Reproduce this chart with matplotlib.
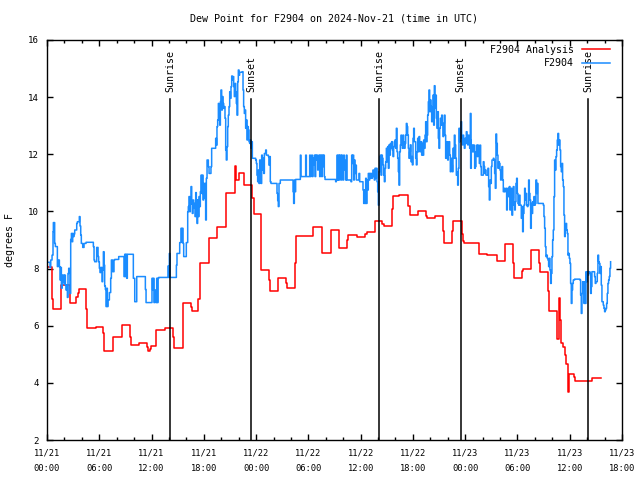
import numpy as np
import matplotlib
matplotlib.use("Agg")
import matplotlib.pyplot as plt

# ---------------- data (hours since 2024-11-21 00:00 UTC, degrees F) ----------------
red_h = [0.0, 0.61, 0.73, 1.65, 2.64, 3.37, 3.52, 3.71, 4.52, 4.63, 5.62, 6.39, 6.54, 7.54, 7.61,
         8.57, 9.53, 9.68, 10.6, 11.5, 11.63, 11.82, 11.98, 12.51, 13.51, 14.5, 14.61, 15.57, 16.49,
         16.6, 17.33, 17.56, 18.6, 19.55, 20.5, 21.58, 21.66, 22.04, 22.57, 23.57, 23.72, 24.53,
         25.52, 25.63, 26.55, 27.47, 27.59, 28.5, 28.62, 30.53, 31.53, 31.6, 32.64, 33.55, 34.47,
         34.59, 35.58, 36.54, 36.69, 37.61, 37.69, 38.49, 38.65, 39.56, 39.66, 40.4, 41.48, 41.63,
         42.55, 42.62, 43.47, 43.65, 44.57, 45.49, 45.61, 46.52, 46.64, 47.6, 47.7, 47.86, 49.55,
         49.6, 50.5, 51.6, 52.53, 53.53, 53.6, 54.56, 54.6, 55.6, 56.5, 56.6, 57.55, 57.6, 58.57,
         58.8, 58.88, 58.96, 59.27, 59.46, 59.61, 59.77, 59.84, 59.96, 60.5, 60.6, 62.52, 62.6, 63.55]
red_v = [8.07, 6.95, 6.58, 7.42, 6.78, 7.0, 7.16, 7.27, 6.6, 5.92, 5.94, 5.73, 5.1, 5.38, 5.6,
         6.01, 5.6, 5.31, 5.38, 5.24, 5.1, 5.19, 5.29, 5.84, 5.92, 5.6, 5.22, 6.78, 6.64,
         6.5, 6.95, 8.18, 9.06, 9.47, 10.63, 11.59, 11.1, 11.33, 10.93, 10.46, 9.9, 7.94,
         7.6, 7.21, 7.66, 7.5, 7.31, 8.2, 9.13, 9.44, 9.0, 8.53, 9.34, 8.71, 9.0,
         9.19, 9.09, 9.2, 9.27, 9.5, 9.65, 9.55, 9.49, 10.1, 10.55, 10.58, 10.2, 9.88,
         9.95, 10.0, 9.85, 9.76, 9.84, 9.3, 8.88, 9.3, 9.65, 9.2, 8.95, 8.88, 8.55,
         8.5, 8.47, 8.25, 8.86, 8.2, 7.66, 7.9, 7.97, 8.64, 8.2, 7.89, 7.2, 6.53, 5.55,
         6.96, 6.2, 5.41, 5.27, 4.97, 4.65, 4.16, 3.69, 4.31, 4.2, 4.05, 4.05, 4.16, 4.16]

blue_h_a = [0.0, 0.35, 0.43, 0.58, 0.69, 0.73, 0.88, 0.96, 1.19, 1.3, 1.42, 1.5, 1.57, 1.65, 1.73,
            1.8, 1.88, 1.96, 2.03, 2.11, 2.18, 2.26, 2.34, 2.41, 2.49, 2.57, 2.64, 2.72, 2.8, 2.87,
            2.95, 3.03, 3.1, 3.18, 3.41, 3.49, 3.71, 3.79, 3.87, 3.94, 4.1, 4.25, 4.48, 5.32, 5.4,
            5.47, 5.7, 5.86, 5.93, 6.01, 6.09, 6.16, 6.32, 6.39, 6.47, 6.55, 6.62, 6.7, 6.78, 6.85,
            6.93, 7.0, 7.16, 7.31, 7.39, 7.54, 7.69, 7.77, 8.23, 8.84, 8.92, 9.0, 9.07, 9.15, 9.22,
            9.91, 10.07, 10.3, 11.29, 11.37, 12.05, 12.13, 12.21, 12.28, 12.36, 12.51, 12.59, 12.67,
            12.74, 12.82, 13.89, 13.97, 14.04, 14.12,
            14.85, 14.92, 15.23, 15.38, 15.46, 15.53, 15.61, 15.69, 15.99, 16.15, 16.22, 16.3, 16.38,
            16.45, 16.53, 16.61, 16.68, 16.76, 16.84, 16.91, 16.99, 17.07, 17.14, 17.22, 17.29, 17.37,
            17.45, 17.52, 17.6, 17.68, 17.75, 17.83, 17.91, 17.98, 18.06, 18.14, 18.21, 18.29, 18.37,
            18.52, 18.6, 18.75, 18.82, 18.9, 19.36, 19.44, 19.51, 19.59, 19.67, 19.74, 19.82, 19.9,
            19.97, 20.05, 20.13, 20.2, 20.28, 20.35, 20.43, 20.51, 20.58, 20.66, 20.74, 20.81, 20.89,
            20.97, 21.04, 21.12, 21.2, 21.27, 21.35, 21.43, 21.5, 21.58, 21.66, 21.73, 21.81, 21.89,
            21.96, 22.04, 22.11, 22.42, 22.5, 22.57, 22.65, 22.73, 22.8, 22.88, 22.96, 23.03, 23.11,
            23.19, 23.26, 23.34, 23.41, 23.49, 23.57, 23.95, 24.03, 24.1, 24.18, 24.26,
            24.33, 24.41, 24.49, 24.56, 24.64, 24.72, 24.79, 24.87, 24.95, 25.1, 25.18, 25.41, 25.48,
            25.56, 25.63, 25.71, 26.4, 26.48, 26.55, 26.63, 26.78, 28.24, 28.31, 28.39, 28.47, 28.54,
            29.08, 29.15, 29.69, 29.77, 30.15, 30.23, 30.3, 30.38, 30.46, 30.53, 30.61, 30.68, 30.76,
            30.84, 30.91, 30.99, 31.07, 31.14, 31.22, 31.3, 31.37, 31.53, 31.6, 31.68, 31.76, 31.83,
            31.91, 33.13, 33.21, 33.29, 33.36, 33.44, 33.52, 33.59, 33.74, 33.82, 33.9, 33.97, 34.05,
            34.13, 34.2, 34.28, 34.36, 34.43, 34.89, 34.97, 35.05, 35.12, 35.2, 35.28, 35.35, 35.43,
            35.51, 35.81, 35.89, 36.27, 36.35, 36.42, 36.5, 36.58, 36.65, 36.73, 36.81, 36.88, 36.96,
            37.04, 37.11, 37.19, 37.26, 37.34, 37.42, 37.49, 37.57]
blue_v_a = [8.22, 8.04, 8.3, 8.47, 9.29, 9.61, 8.88, 8.77, 8.07, 8.3, 8.07, 7.6, 8.04, 7.31, 7.77,
            7.54, 7.77, 7.46, 7.77, 7.42, 7.25, 7.42, 6.99, 7.83, 8.01, 7.89, 7.13, 9.02, 9.23, 8.94,
            9.23, 9.12, 9.21, 9.35, 9.58, 9.64, 9.82, 9.49, 9.17, 8.88, 8.74, 8.88, 8.92, 8.77, 8.3,
            8.24, 8.74, 8.42, 8.24, 8.01, 7.86, 8.04, 7.54, 7.95, 8.59, 8.12, 7.39, 7.27, 6.67, 7.31,
            6.67, 6.9, 7.16, 7.66, 8.3, 7.89, 8.3, 8.32, 8.42, 7.72, 8.5, 7.72, 8.5, 7.66, 8.5,
            7.66, 6.84, 7.72, 7.27, 6.81, 7.66, 7.25, 7.66, 6.81, 7.25, 6.81, 7.66, 6.81,
            7.66, 7.69, 8.09, 7.69, 8.53, 7.69,
            8.12, 8.53, 8.91, 9.41, 8.94, 9.41, 8.88, 8.42, 8.91, 9.99, 10.17, 10.52, 9.99,
            10.26, 10.87, 10.28, 9.93, 10.4, 10.11, 10.28, 9.82, 10.66, 10.4, 9.58, 10.4, 9.82,
            10.52, 10.17, 10.69, 11.27, 10.63, 11.27, 10.4, 10.98, 10.46, 10.98, 9.7, 11.16, 11.8,
            11.57, 11.33, 11.33, 11.57, 12.21, 12.56, 12.32, 12.97, 13.2, 13.78, 13.43, 13.02, 13.84,
            14.25, 13.55, 14.02, 13.78, 13.61, 13.67, 13.26, 12.15, 11.8, 12.27, 12.97, 13.37, 13.67,
            14.19, 13.96, 14.37, 14.74, 14.6, 14.72, 14.37, 14.02, 14.48, 14.19, 13.78, 13.37, 14.54,
            14.95, 14.77, 14.87, 14.89, 14.25, 13.67, 13.43, 13.55, 12.91, 13.2, 12.5, 12.97, 12.85,
            12.44, 12.38, 12.5, 12.21, 12.44, 11.86, 11.8, 11.68, 11.27, 11.04, 11.45,
            10.98, 11.8, 11.45, 10.98, 11.97, 11.45, 11.86, 11.33, 12.03, 12.15, 11.97, 11.92, 11.62,
            11.92, 11.04, 10.98, 10.63, 10.38, 10.17, 10.98, 11.1, 10.69, 10.28, 11.1, 10.69, 11.12,
            11.97, 11.22, 11.97, 11.22, 11.97, 11.22, 11.57, 11.97, 11.22, 11.86, 11.62, 11.97, 11.22,
            11.97, 11.8, 11.97, 11.45, 11.68, 11.97, 11.22, 11.97, 11.22, 11.97, 11.57, 11.97, 11.22,
            11.12, 11.04, 11.1, 11.97, 11.1, 11.97, 11.1, 11.97, 11.1, 11.97, 11.57, 11.1, 11.97,
            11.8, 11.45, 11.1, 11.97, 11.1, 11.04, 11.97, 11.68, 11.97, 11.1, 11.8, 11.33, 11.62,
            11.1, 11.33, 11.04, 10.75, 10.28, 10.75, 10.28, 11.16, 10.28, 11.1, 10.75, 11.33, 11.1,
            11.33, 11.16, 11.33, 11.16, 11.27, 11.45, 11.22, 11.1]

# evenly sampled readings (every ~4.6 min) from 37.65 h and from 48.55 h
blue_b_start, blue_c_start, blue_step = 37.65, 48.55, 0.0765
blue_v_b = [11.51, 11.16, 11.51, 11.04, 10.69, 10.22, 11.39, 11.92, 11.97, 11.27, 11.97, 11.86,
            11.63, 11.27, 11.04, 11.51, 11.74, 12.21, 11.74, 12.27, 11.51, 12.33, 11.97, 12.38,
            12.21, 12.44, 12.15, 11.92, 12.27, 12.44, 12.5, 12.21, 12.91, 12.09, 11.86, 11.39,
            10.92, 12.09, 12.33, 12.67, 12.33, 12.21, 12.67, 12.44, 12.21, 12.38, 12.67, 13.08,
            12.97, 12.67, 12.21, 11.86, 12.09, 12.33, 11.74, 11.92, 11.63, 12.56, 12.91, 12.44,
            12.44, 11.86, 11.63, 12.09, 12.56, 12.09, 12.62, 12.27, 12.09, 12.44, 11.97, 12.38,
            11.97, 12.5, 12.21, 12.67, 13.14, 12.44, 12.67, 13.37, 13.84, 14.25, 13.49, 13.9,
            13.67, 13.14, 13.61, 14.07, 13.02, 14.4, 13.61, 14.07, 13.26, 12.91, 13.49, 12.56,
            12.21, 12.91, 13.26, 13.02, 13.37, 13.08, 12.62, 13.08, 13.37, 12.67, 11.86, 12.09,
            12.44, 11.8, 12.27, 12.44, 11.97, 11.39, 11.86, 11.63, 11.39, 12.21, 11.86, 12.67,
            12.33, 11.86, 11.27, 11.39, 10.92, 11.51, 12.91, 12.44, 12.79, 13.14, 12.56, 12.33,
            12.67, 12.44, 12.21, 12.56, 12.38, 12.79, 12.44, 12.33, 12.67, 12.44, 12.21, 13.43, 12.21]
blue_v_c = [12.5, 11.51, 12.32, 12.09, 12.32, 12.09, 12.32, 11.51, 11.57, 12.09, 12.32, 11.92,
            12.32, 12.03, 11.68, 12.32, 11.57, 11.27, 11.27, 11.27, 11.74, 11.57, 11.33, 11.45,
            11.27, 11.27, 11.27, 11.51, 10.87, 10.4, 11.1, 10.98, 11.57, 11.8, 11.8, 11.86,
            11.8, 11.33, 10.81, 12.71, 12.38, 11.97, 11.51, 11.74, 11.68, 11.45, 11.1, 11.22,
            11.57, 11.1, 10.69, 10.81, 10.69, 10.75, 10.81, 10.05, 10.52, 10.81, 10.52, 10.87,
            10.05, 10.52, 10.81, 9.87, 10.46, 10.87, 10.22, 10.05, 10.34, 10.98, 11.16, 10.63,
            10.28, 10.22, 10.57, 10.22, 10.22, 9.76, 10.17, 9.29, 9.93, 10.22, 10.81, 10.4,
            10.63, 10.22, 10.17, 10.22, 11.1, 10.63, 10.4, 9.41, 10.28, 9.93, 10.34, 10.22,
            10.52, 10.22, 10.28, 11.1, 10.63, 10.98, 10.28, 10.28, 10.28, 10.28, 10.28, 10.28,
            10.28, 10.28, 10.22, 9.82, 9.41, 8.77, 8.42, 8.47, 8.36, 8.3, 8.07, 8.36,
            7.95, 7.48, 7.83, 8.42, 9.0, 9.35, 10.52, 11.8, 11.45, 11.92, 12.15, 12.5,
            12.73, 12.32, 12.5, 12.15, 11.57, 11.39, 11.68, 11.1, 10.87, 9.87, 9.12, 9.35,
            9.58, 9.35, 9.23, 8.47, 8.53, 8.36, 8.18, 7.48, 6.78, 7.25, 7.48, 7.6,
            7.6, 7.63, 7.63, 7.63, 7.63, 7.63, 7.63, 7.63, 7.63, 7.6, 7.07, 6.43,
            7.13, 7.54, 7.31, 6.78, 7.54, 6.78, 7.89, 7.54, 7.89, 7.77, 7.89, 7.89,
            7.83, 7.13, 7.37, 7.89, 7.89, 7.89, 7.89, 7.72, 7.48, 7.54, 7.54, 7.83,
            8.47, 8.24, 8.18, 7.83, 8.07, 7.42, 6.84, 6.84, 6.72, 6.61, 6.49, 6.55,
            6.61, 6.78, 7.13, 7.48, 7.6, 7.72, 8.01, 8.24]

event_h = [14.15, 23.45, 38.13, 47.48, 62.13]
event_lbl = ["Sunrise", "Sunset", "Sunrise", "Sunset", "Sunrise"]
event_top = 13.93

xtick_h = list(range(0, 67, 6))
xtick_lbl = ["11/21\n00:00", "11/21\n06:00", "11/21\n12:00", "11/21\n18:00",
             "11/22\n00:00", "11/22\n06:00", "11/22\n12:00", "11/22\n18:00",
             "11/23\n00:00", "11/23\n06:00", "11/23\n12:00", "11/23\n18:00"]
ytick_v = list(range(2, 17, 2))

# ---------------- build series ----------------
blue_h = (blue_h_a
          + list(blue_b_start + blue_step * np.arange(len(blue_v_b)))
          + list(blue_c_start + blue_step * np.arange(len(blue_v_c))))
blue_v = blue_v_a + blue_v_b + blue_v_c

# ---------------- plot ----------------
FONT = "DejaVu Sans Mono"
plt.rcParams["font.family"] = FONT

fig = plt.figure(figsize=(6.4, 4.8), dpi=100)
ax = fig.add_axes([47 / 640, 1 - 440 / 480, 575 / 640, 400 / 480])

ax.step(red_h, red_v, where="post", color="#ff0000", lw=1.1, label="F2904 Analysis")
ax.step(blue_h, blue_v, where="post", color="#1a8cff", lw=1.1, label="F2904")

for h, lbl in zip(event_h, event_lbl):
    ax.plot([h, h], [2, event_top], color="black", lw=1.1)
    ax.text(h, event_top + 0.25, lbl, rotation=90, ha="center", va="bottom",
            fontsize=7.2, color="black")

ax.set_xlim(0, 66)
ax.set_ylim(2, 16)
ax.set_xticks(xtick_h)
ax.set_xticklabels(xtick_lbl, fontsize=6.3, linespacing=1.9)
ax.set_xticks(np.arange(0, 67, 2), minor=True)
ax.set_yticks(ytick_v)
ax.set_yticklabels([str(v) for v in ytick_v], fontsize=6.6)
ax.tick_params(which="both", direction="in", top=True, right=True, width=1)
ax.tick_params(which="major", length=4.5)
ax.tick_params(which="minor", length=2.5)
ax.tick_params(axis="x", which="major", pad=6)
ax.tick_params(axis="y", which="major", pad=6)
for s in ax.spines.values():
    s.set_linewidth(1)

ax.set_title("Dew Point for F2904 on 2024-Nov-21 (time in UTC)", fontsize=7.2, pad=13)
fig.text(10 / 640, 0.5, "degrees F", rotation=90, ha="center", va="center", fontsize=7.2)

leg = ax.legend(loc="upper right", bbox_to_anchor=(0.979, 0.988), frameon=False,
                markerfirst=False, handlelength=2.8, handletextpad=0.8,
                labelspacing=0.35, borderaxespad=0, borderpad=0, fontsize=7.2)

fig.savefig("out.png", dpi=100)
